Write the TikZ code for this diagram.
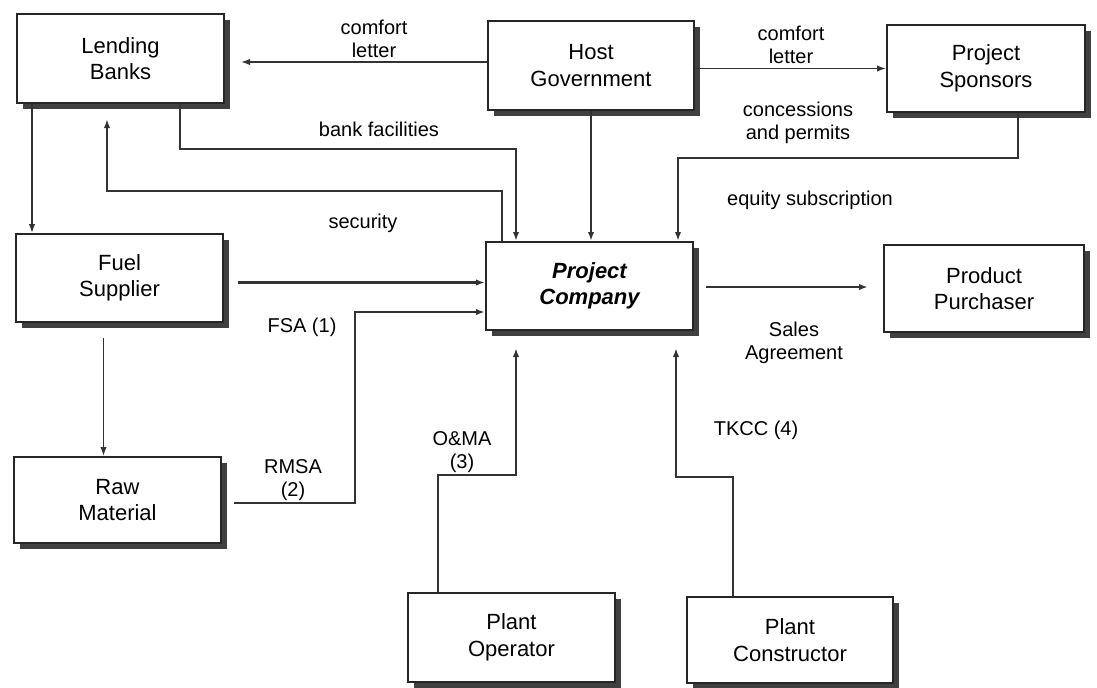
\documentclass[tikz,border=0pt]{standalone}
\usepackage{fontspec}
\setmainfont{Liberation Sans}
\usetikzlibrary{arrows.meta,shadows}
\begin{document}
\begin{tikzpicture}[x=0.5pt,y=-0.5pt,
  box/.style={draw=black!85, line width=1pt, fill=white, align=center, inner sep=0pt,
    font=\fontsize{11}{13.25}\selectfont,
    drop shadow={shadow xshift=2.75pt, shadow yshift=-2.75pt, fill=black!75, opacity=1}},
  arr/.style={draw=black!80, line width=1.15pt, -{Latex[length=4.5pt,width=3.2pt]}},
  thinarr/.style={arr, line width=0.7pt},
  lbl/.style={align=center, inner sep=0pt, font=\fontsize{10}{11.5}\selectfont}]
\useasboundingbox (0,0) rectangle (1097,687);

% boxes
\node[box, minimum width=103.5pt, minimum height=44.5pt] (LB) at (120.5,58.5) {Lending\\Banks};
\node[box, minimum width=103pt, minimum height=44.5pt] (HG) at (591,65.5) {Host\\Government};
\node[box, minimum width=99pt, minimum height=43.5pt] (PS) at (986,68.5) {Project\\Sponsors};
\node[box, minimum width=103.5pt, minimum height=44pt] (FS) at (119.5,278) {Fuel\\Supplier};
\node[box, minimum width=103.5pt, minimum height=44pt] (PC) at (589.5,286) {\bfseries\itshape Project\\\bfseries\itshape Company};
\node[box, minimum width=100pt, minimum height=43.5pt] (PP) at (984,288.5) {Product\\Purchaser};
\node[box, minimum width=103.5pt, minimum height=43pt] (RM) at (117.5,500) {Raw\\Material};
\node[box, minimum width=103.5pt, minimum height=44.5pt] (PO) at (511.5,637.5) {Plant\\Operator};
\node[box, minimum width=103pt, minimum height=43pt] (PCon) at (790,640) {Plant\\Constructor};

% connectors
\draw[thinarr] ([yshift=1.75pt]HG.west) -- ([xshift=8pt,yshift=-1.75pt]LB.east);
\draw[thinarr] ([yshift=-1.5pt]HG.east) -- (PS.west);
\draw[arr] ([xshift=29.75pt]LB.south) -- ++(0,45) -| ([xshift=-36.75pt]PC.north);
\draw[arr] ([xshift=-43.75pt]PC.north) -- ++(0,-50) -| ([xshift=-6.75pt,yshift=-7.5pt]LB.south);
\draw[arr] (HG.south) -- (HG.south |- PC.north);
\draw[arr] ([xshift=16pt]PS.south) -- ++(0,45) -| ([xshift=44.25pt]PC.north);
\draw[thinarr] ([xshift=-44.25pt]LB.south) -- ([xshift=-44.25pt]LB.south |- FS.north);
\draw[arr] ([xshift=7pt,yshift=-2.25pt]FS.east) -- ([yshift=-2.25pt]FS.east -| PC.west);
\draw[arr] ([xshift=6pt,yshift=-1.5pt]RM.east) -- ++(121,0) |- ([yshift=-13pt]PC.west);
\draw[thinarr] ([xshift=-8pt,yshift=-7.5pt]FS.south) -- ([xshift=-8pt]FS.south |- RM.north);
\draw[arr] ([xshift=-36.75pt]PO.north) -- ++(0,-117) -| ([xshift=-36.75pt,yshift=-8.5pt]PC.south);
\draw[arr] ([xshift=-28.5pt]PCon.north) -- ++(0,-119) -| ([xshift=43.25pt,yshift=-8.5pt]PC.south);
\draw[arr] ([xshift=6pt,yshift=-0.5pt]PC.east) -- ([xshift=-7.5pt,yshift=-0.5pt]PC.east -| PP.west);

% labels
\node[lbl] (l1) at (374,38.5) {comfort\\letter};
\node[lbl] (l2) at (791,45) {comfort\\letter};
\node[lbl] (l3) at (379,129) {bank facilities};
\node[lbl] (l4) at (363,223) {security};
\node[lbl] (l5) at (798,123) {concessions\\and permits};
\node[lbl] (l6) at (810,200) {equity subscription};
\node[lbl] (l7) at (302,327) {FSA (1)};
\node[lbl] (l8) at (293,480) {RMSA\\(2)};
\node[lbl] (l9) at (462,452) {O\&MA\\(3)};
\node[lbl] (l10) at (756,430) {TKCC (4)};
\node[lbl] (l11) at (794,343) {Sales\\Agreement};
\end{tikzpicture}
\end{document}
